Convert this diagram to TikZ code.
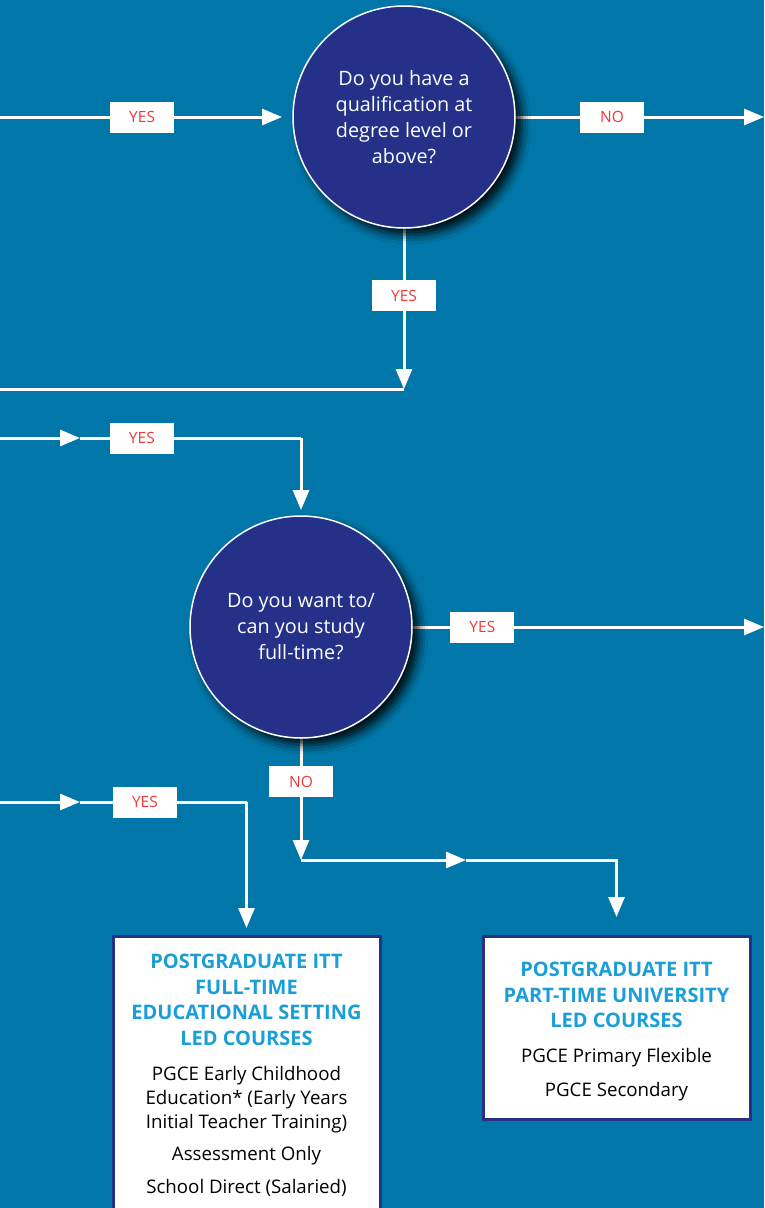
\documentclass[tikz,border=0pt]{standalone}
\usepackage{fontspec}
\setmainfont{Open Sans}
\usetikzlibrary{arrows.meta,shadows.blur}
\definecolor{bg}{RGB}{0,119,168}
\definecolor{navy}{RGB}{37,48,136}
\definecolor{cyanT}{RGB}{26,158,216}
\definecolor{redT}{RGB}{238,58,58}
\begin{document}
\begin{tikzpicture}[x=1pt,y=-1pt,
  flow/.style={draw=white, line width=3pt},
  arr/.style={-{Triangle[length=20pt,width=16pt]}},
  lbl/.style={fill=white, text=redT, minimum width=64pt, minimum height=31pt, inner sep=0pt, font=\fontsize{15.5}{17}\selectfont},
  question/.style={circle, fill=navy, draw=white, line width=1.5pt, minimum size=222pt, inner sep=0pt, align=center, text=white, font=\fontsize{19.8}{26}\selectfont,
    blur shadow={shadow xshift=7pt, shadow yshift=-7pt, shadow blur radius=9pt, shadow opacity=90}},
  result/.style={draw=navy, line width=3pt, fill=white, inner sep=0pt},
  ttl/.style={align=center, text=cyanT, font=\fontsize{20}{25.5}\selectfont\bfseries},
  body/.style={align=center, text=black, font=\fontsize{18.7}{24}\selectfont}
]
\useasboundingbox (0,0) rectangle (764,1208);
\clip (0,0) rectangle (764,1208);
\fill[bg] (0,0) rectangle (764,1208);

% coordinates
\coordinate (inL1) at (0,117);
\coordinate (outR1) at (764,117);
\coordinate (j1) at (404,389);
\coordinate (outL1) at (0,389);
\coordinate (inL2) at (0,438);
\coordinate (m4) at (80,438);
\coordinate (c4) at (301,438);
\coordinate (outR2) at (764,627);
\coordinate (j2) at (301,860);
\coordinate (m6) at (466,860);
\coordinate (inL3) at (0,802);
\coordinate (m7) at (80,802);
\coordinate (c7) at (246.5,802);

% result boxes
\node[result, minimum width=267pt, minimum height=290pt, anchor=north] (r1) at (246.5,935) {};
\node[result, minimum width=267pt, minimum height=183pt, anchor=north] (r2) at (616.5,935) {};

% connectors (drawn before circles so shadows overlay them)
\draw[flow,arr,shorten >=11pt] (inL1) -- node[lbl,pos=0.485]{YES} (404-111,117);
\draw[flow,arr] (404+111,117) -- node[lbl,pos=0.39]{NO} (outR1);
\draw[flow,arr] (404,228) -- node[lbl,pos=0.42]{YES} (j1);
\draw[flow] (j1) -- (outL1);
\draw[flow,arr] (inL2) -- (m4);
\draw[flow] (m4) -- node[lbl,pos=0.28]{YES} (c4);
\draw[flow,arr] (c4) -- (301,510);
\draw[flow,arr] (301+111,627) -- node[lbl,pos=0.2]{YES} (outR2);
\draw[flow,arr] (301,738) -- node[lbl,pos=0.36]{NO} (j2);
\draw[flow,arr] (j2) -- (m6);
\draw[flow,arr,shorten >=18pt] (m6) -| (r2.north);
\draw[flow,arr] (inL3) -- (m7);
\draw[flow] (m7) -- node[lbl,pos=0.39]{YES} (c7);
\draw[flow,arr,shorten >=7pt] (c7) -- (r1.north);

% question circles
\node[question] (q1) at (404,117) {Do you have a\\qualification at\\degree level or\\above?};
\node[question] (q2) at (301,627) {Do you want to/\\can you study\\full-time?};

% box texts
\node[ttl] (r1t) at (246.5,1000) {POSTGRADUATE ITT\\FULL-TIME\\EDUCATIONAL SETTING\\LED COURSES};
\node[body] (r1b1) at (246.5,1100) {PGCE Early Childhood\\Education* (Early Years\\Initial Teacher Training)};
\node[body] (r1b2) at (246.5,1156) {Assessment Only};
\node[body] (r1b3) at (246.5,1188) {School Direct (Salaried)};

\node[ttl] (r2t) at (616.5,995) {POSTGRADUATE ITT\\PART-TIME UNIVERSITY\\LED COURSES};
\node[body] (r2b1) at (616.5,1058) {PGCE Primary Flexible};
\node[body] (r2b2) at (616.5,1092) {PGCE Secondary};
\end{tikzpicture}
\end{document}
